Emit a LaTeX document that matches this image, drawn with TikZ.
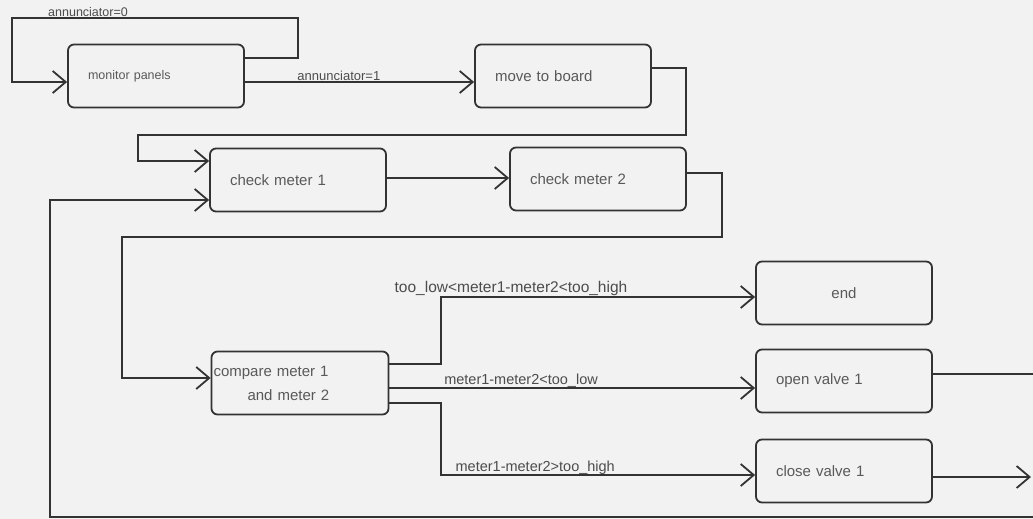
\documentclass[tikz,border=0pt]{standalone}
\usepackage{fontspec}
\setmainfont{Liberation Sans}
\usetikzlibrary{arrows.meta}

\begin{document}
\begin{tikzpicture}[x=1pt, y=-1pt,
    line width=1.8pt, draw=black!80,
    >={Straight Barb[length=13pt, width=22pt, line width=1.8pt]},
    box/.style={draw=black!80, rounded corners=6pt, minimum width=176, minimum height=63,
      text width=136, inner xsep=20, align=left, text=black!65,
      font=\fontsize{15}{19}\selectfont},
    elabel/.style={text=black!70, inner sep=1pt, font=\fontsize{14.5}{17}\selectfont}]

  \newcommand\bx{1033};
  \newcommand\by{519};

  \fill[black!5] (0,0) rectangle (\bx,\by);
  \useasboundingbox (0,0) rectangle (\bx,\by);

  \node[box, font=\fontsize{12.5}{15}\selectfont, inner xsep=18] (monitor) at (156,76) {monitor panels};
  \node[box] (move) at (563,76) {move to board};
  \node[box] (check1) at (298,180) {check meter 1};
  \node[box] (check2) at (598,179) {check meter 2};
  \node[box, align=center] (done) at (844,293) {end};
  \node[box, text width=173, inner xsep=2, font=\fontsize{15}{24}\selectfont] (compare) at (300,383) {compare meter 1\\\hspace*{34pt}and meter 2};
  \node[box] (openv) at (844,381) {open valve 1};
  \node[box] (closev) at (844,471) {close valve 1};

  \coordinate (rimopen) at (\bx,374);
  \coordinate (rimclose) at (1031,477);
  \coordinate (rimback) at (\bx,517);

  \draw[->] (monitor.east |- 0,58) -| (298,18) -| (12,82) -- (monitor.west |- 0,82); % monitor->monitor
  \node[elabel, font=\fontsize{12.5}{14}\selectfont] (lab0) at (88,12) {annunciator=0};

  \draw[->] (monitor.east |- 0,82) -- node[elabel, font=\fontsize{13}{15}\selectfont, pos=0.41, above=-1pt]{annunciator=1} (move.west |- 0,82); % monitor->move

  \draw[->] (move.east |- 0,68) -| (686,135) -| (138,161) -- (check1.west |- 0,161); % move->check1
  \draw[->] (check1.east |- 0,178) -- (check2.west |- 0,178); % check1->check2
  \draw[->] (check2.east |- 0,173) -| (722,237) -| (122,378) -- (compare.west |- 0,378); % check2->compare

  \draw[->] (compare.east |- 0,364) -| (441,297) -- (done.west |- 0,297); % compare->end
  \node[elabel, font=\fontsize{15.5}{18}\selectfont, anchor=south] (labend) at (511,298) {too\_low<meter1-meter2<too\_high};

  \draw[->] (compare.east |- 0,388) -- node[elabel, pos=0.36, above=-1pt]{meter1-meter2<too\_low} (openv.west |- 0,388); % compare->open
  \draw[->] (compare.east |- 0,403) -| (441,475) -- node[elabel, pos=0.30, above=-1pt]{meter1-meter2>too\_high} (closev.west |- 0,475); % compare->close

  \draw (openv.east |- 0,374) -- (rimopen); % open->
  \draw[->] (closev.east |- 0,477) -- (rimclose); % close->
  \draw[->] (rimback) -| (50,200) -- (check1.west |- 0,200); % back->check1

\end{tikzpicture}
\end{document}
